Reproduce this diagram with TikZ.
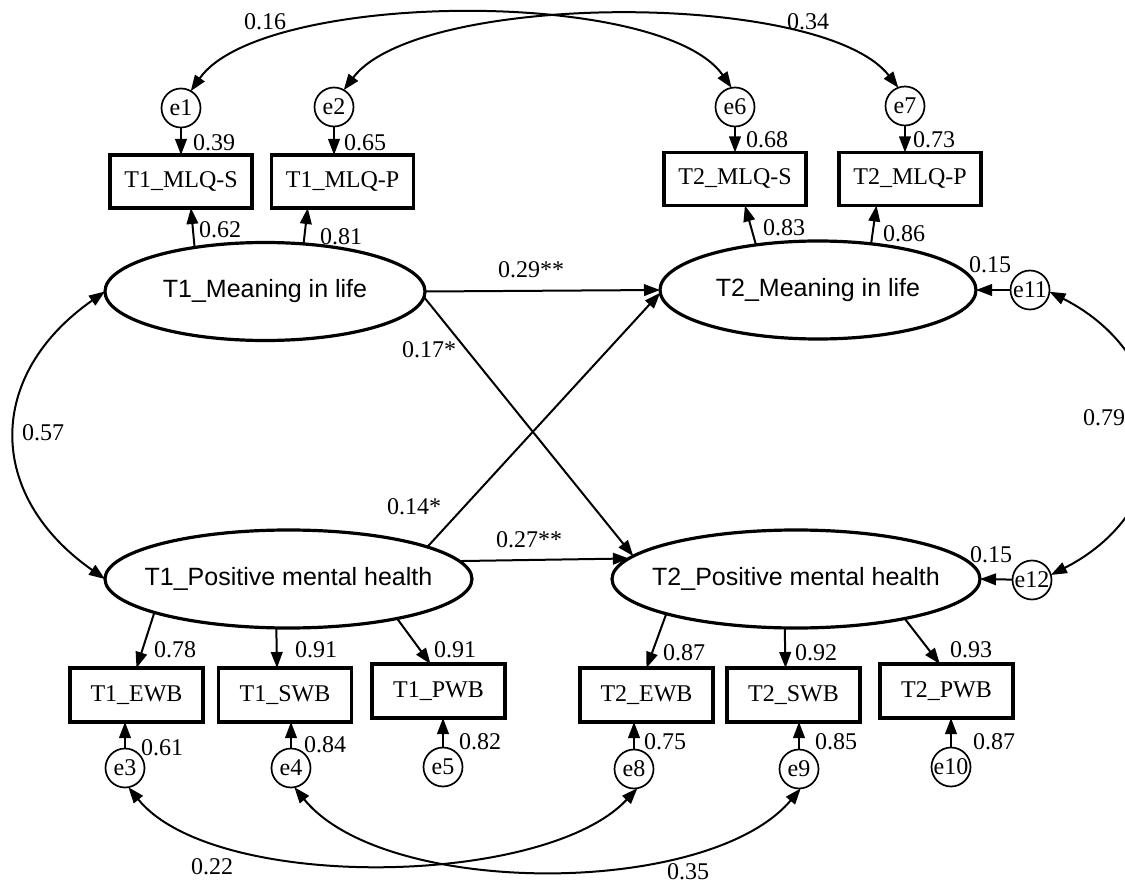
\documentclass[tikz,border=0pt]{standalone}
\usepackage{fontspec}
\setmainfont{Liberation Serif}
\newfontfamily\latfont{Liberation Sans}
\usetikzlibrary{arrows.meta,calc,shapes.geometric}

\begin{document}
\begin{tikzpicture}[x=0.5pt,y=0.5pt,
  font=\fontsize{12}{14}\selectfont,
  every node/.style={inner sep=0pt, outer sep=0pt},
  latent/.style={ellipse, draw, line width=1.6pt, minimum height=49pt, inner xsep=-12pt,
    font=\latfont\fontsize{12.5}{15}\selectfont},
  obstop/.style={rectangle, draw, line width=1.6pt, minimum width=71pt, minimum height=26.5pt},
  obsbot/.style={rectangle, draw, line width=1.6pt, minimum width=66.5pt, minimum height=27pt},
  err/.style={circle, draw, line width=0.85pt, minimum size=19.5pt},
  reg/.style={line width=1pt, -{Triangle[length=8pt,width=5.8pt]}},
  cov/.style={line width=1pt, {Triangle[length=8pt,width=5.8pt]}-{Triangle[length=8pt,width=5.8pt]}},
  num/.style={}
]
\useasboundingbox (0,0) rectangle (1125,-882);

% latent variables
\node[latent, minimum width=160pt] (m1) at (265,-291.5) {T1\_Meaning in life};
\node[latent, minimum width=158pt] (m2) at (818,-290) {T2\_Meaning in life};
\node[latent, minimum width=183.5pt] (p1) at (288.5,-579) {T1\_Positive mental health};
\node[latent, minimum width=184pt] (p2) at (796,-579) {T2\_Positive mental health};

% indicators
\node[obstop] (mlqs1) at (181,-181.5) {T1\_MLQ-S};
\node[obstop] (mlqp1) at (342.5,-181.5) {T1\_MLQ-P};
\node[obstop] (mlqs2) at (735,-179) {T2\_MLQ-S};
\node[obstop] (mlqp2) at (910,-179) {T2\_MLQ-P};
\node[obsbot] (ewb1) at (136.5,-695) {T1\_EWB};
\node[obsbot] (swb1) at (285,-695) {T1\_SWB};
\node[obsbot] (pwb1) at (438.5,-691) {T1\_PWB};
\node[obsbot] (ewb2) at (646.5,-695) {T2\_EWB};
\node[obsbot] (swb2) at (793.5,-695) {T2\_SWB};
\node[obsbot] (pwb2) at (946.5,-691) {T2\_PWB};

% error terms
\node[err] (e1) at (181,-108) {e1};
\node[err] (e2) at (334,-107) {e2};
\node[err] (e6) at (735,-107) {e6};
\node[err] (e7) at (905,-106) {e7};
\node[err] (e3) at (125,-768) {e3};
\node[err] (e4) at (291,-768) {e4};
\node[err] (e5) at (443,-767) {e5};
\node[err] (e8) at (634,-769) {e8};
\node[err] (e9) at (799,-769) {e9};
\node[err] (e10) at (951,-767) {e10};
\node[err] (e11) at (1030,-290) {e11};
\node[err] (e12) at (1032,-580) {e12};

% error paths
\draw[reg] (e1) -- (e1 |- mlqs1.north);
\draw[reg] (e2) -- (e2 |- mlqp1.north);
\draw[reg] (e6) -- (e6 |- mlqs2.north);
\draw[reg] (e7) -- (e7 |- mlqp2.north);
\draw[reg] (e3) -- (e3 |- ewb1.south);
\draw[reg] (e4) -- (e4 |- swb1.south);
\draw[reg] (e5) -- (e5 |- pwb1.south);
\draw[reg] (e8) -- (e8 |- ewb2.south);
\draw[reg] (e9) -- (e9 |- swb2.south);
\draw[reg] (e10) -- (e10 |- pwb2.south);
\draw[reg] (e11) -- (m2.east);
\draw[reg] (e12) -- (p2.east);

% factor loadings
\draw[reg] (m1.148.9) -- ($(mlqs1.south west)!0.57!(mlqs1.south east)$);
\draw[reg] (m1.51.7) -- ($(mlqp1.south west)!0.255!(mlqp1.south east)$);
\draw[reg] (m2.144.5) -- ($(mlqs2.south west)!0.57!(mlqs2.south east)$);
\draw[reg] (m2.41.7) -- ($(mlqp2.south west)!0.264!(mlqp2.south east)$);
\draw[reg] (p1.194.1) -- ($(ewb1.north west)!0.5!(ewb1.north east)$);
\draw[reg] (p1.256.8) -- ($(swb1.north west)!0.44!(swb1.north east)$);
\draw[reg] (p1.340.8) -- ($(pwb1.north west)!0.44!(pwb1.north east)$);
\draw[reg] (p2.195.4) -- ($(ewb2.north west)!0.5!(ewb2.north east)$);
\draw[reg] (p2.257.3) -- ($(swb2.north west)!0.44!(swb2.north east)$);
\draw[reg] (p2.340.6) -- ($(pwb2.north west)!0.45!(pwb2.north east)$);

% cross-lagged paths
\draw[reg] (m1.east) -- (m2.west);
\draw[reg] (m1.-2) -- (p2.172.3);
\draw[reg] (p1.13.8) -- (m2.181.5);
\draw[reg] (p1.6.2) -- (p2.173.5);

% covariances
\draw[cov] (m1.west) to[out=215,in=145,looseness=1.3] (p1.west);
\draw[cov] (e11.-5) to[out=-27,in=27,looseness=1.35] (e12.15);
\draw[cov] (e1.60) to[out=55,in=125,looseness=0.58] (e6.100);
\draw[cov] (e2.60) to[out=53,in=128,looseness=0.57] (e7.110);
\draw[cov] (e3.-80) to[out=-51,in=-133,looseness=0.68] (e8.-80);
\draw[cov] (e4.-80) to[out=-51,in=-130,looseness=0.72] (e9.-85);

% coefficients
\node[num] (c01) at (265,-22) {0.16};
\node[num] (c02) at (808,-22) {0.34};
\node[num] (c03) at (214,-143) {0.39};
\node[num] (c04) at (365,-143) {0.65};
\node[num] (c05) at (767,-140) {0.68};
\node[num] (c06) at (934,-140) {0.73};
\node[num] (c07) at (220,-230) {0.62};
\node[num] (c08) at (341,-237) {0.81};
\node[num] (c09) at (784,-228) {0.83};
\node[num] (c10) at (904,-234) {0.86};
\node[num] (c11) at (531,-270) {0.29**};
\node[num] (c12) at (429,-350) {0.17*};
\node[num] (c13) at (414,-507) {0.14*};
\node[num] (c14) at (529,-540) {0.27**};
\node[num] (c15) at (43,-433) {0.57};
\node[num, anchor=west] (c16) at (1083,-418) {0.79};
\node[num] (c17) at (990,-265) {0.15};
\node[num] (c18) at (991,-555) {0.15};
\node[num] (c19) at (175,-650) {0.78};
\node[num] (c20) at (316,-650) {0.91};
\node[num] (c21) at (455,-650) {0.91};
\node[num] (c22) at (684,-653) {0.87};
\node[num] (c23) at (816,-653) {0.92};
\node[num] (c24) at (971,-650) {0.93};
\node[num] (c25) at (162,-748) {0.61};
\node[num] (c26) at (325,-745) {0.84};
\node[num] (c27) at (480,-742) {0.82};
\node[num] (c28) at (665,-742) {0.75};
\node[num] (c29) at (836,-742) {0.85};
\node[num] (c30) at (994,-742) {0.87};
\node[num] (c31) at (212,-867) {0.22};
\node[num] (c32) at (688,-872) {0.35};
\end{tikzpicture}
\end{document}
